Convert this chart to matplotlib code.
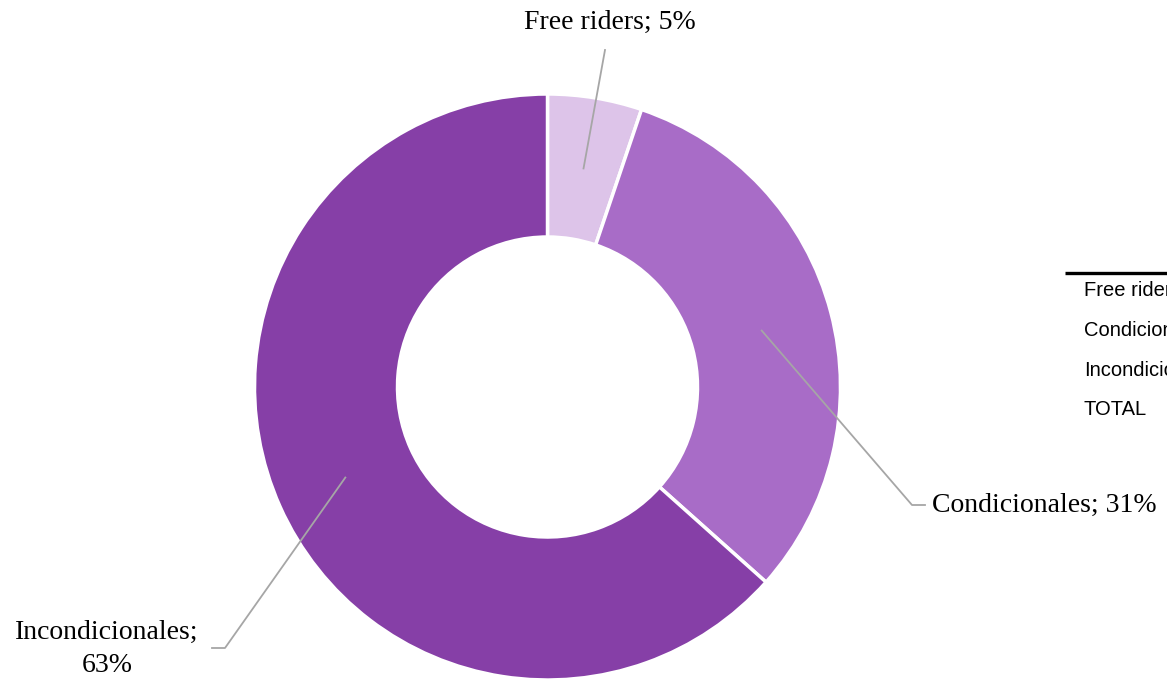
import numpy as np
import matplotlib.pyplot as plt

# data
categories = ["Free riders", "Condicionales", "Incondicionales"]
shares = [5.2, 31.4, 63.4]
colors = ["#DDC4E9", "#A86CC7", "#863FA7"]
table_rows = ["Free riders", "Condicionales", "Incondicionales", "TOTAL"]

W, H = 1167, 681
fig = plt.figure(figsize=(W / 100, H / 100), dpi=100)
ax = fig.add_axes([0, 0, 1, 1])

cx, cy = 547.5, H - 387
r_out = 293
r_in = 150

wedges, _ = ax.pie(shares, colors=colors, startangle=90, counterclock=False,
                   center=(cx, cy), radius=r_out,
                   wedgeprops=dict(width=r_out - r_in, edgecolor="white", linewidth=2.5))

ax.set_xlim(0, W)
ax.set_ylim(0, H)
ax.set_aspect("equal")
ax.axis("off")

# leader lines + labels (anchor at mid ring, mid angle)
label_font = dict(family="Liberation Serif", fontsize=20, color="black")
line_kw = dict(color="#A6A6A6", lw=1.3)
r_mid = (r_out + r_in) / 2

# label placements: (line end points, text pos, alignment)
placements = [
    dict(path=[(605, H - 50)], text=(610, H - 22), ha="center"),
    dict(path=[(912, H - 505), (925, H - 505)], text=(932, H - 505), ha="left"),
    dict(path=[(225, H - 648), (212, H - 648)], text=(107, H - 649), ha="center"),
]

for w, cat, val, pl in zip(wedges, categories, shares, placements):
    ang = np.deg2rad((w.theta1 + w.theta2) / 2)
    ax_, ay_ = cx + r_mid * np.cos(ang), cy + r_mid * np.sin(ang)
    xs = [ax_] + [p[0] for p in pl["path"]]
    ys = [ay_] + [p[1] for p in pl["path"]]
    ax.plot(xs, ys, **line_kw)
    if cat == "Incondicionales":
        txt = f"{cat};\n{val:.0f}%"
    else:
        txt = f"{cat}; {val:.0f}%"
    ax.text(pl["text"][0], pl["text"][1], txt, ha=pl["ha"], va="center",
            multialignment="center", linespacing=1.45, **label_font)

# partially visible table on the right
ax.plot([1065, W + 5], [H - 273, H - 273], color="black", lw=2.4, solid_capstyle="butt")
for i, row in enumerate(table_rows):
    ax.text(1084, H - 291 - i * 39.5, row, ha="left", va="center",
            family="Liberation Sans", fontsize=14.5, color="black")

fig.savefig("out.png", dpi=100)
